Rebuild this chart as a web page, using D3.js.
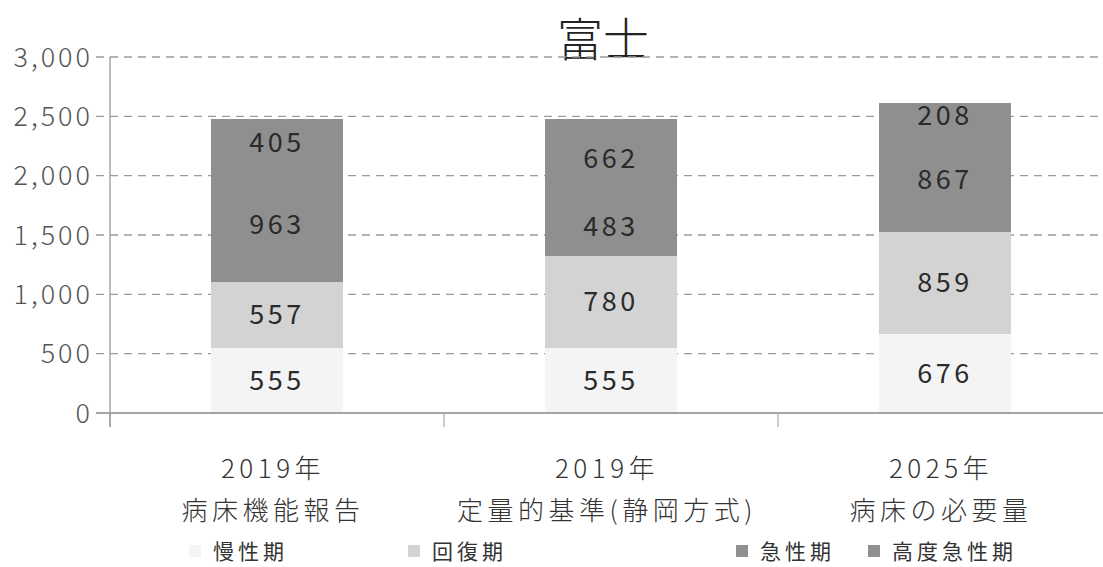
<!DOCTYPE html>
<html>
<head>
<meta charset="utf-8">
<script src="https://cdn.jsdelivr.net/npm/d3@7"></script>
<style>
	body { margin: 0; background: #fff; }
	svg { display: block; }
	text { font-family: "Noto Sans CJK JP", "Noto Sans", sans-serif; }
</style>
</head>
<body>
<div id="chart"></div>
<script>
// categories (two-line labels)
var categories = ['2019年\n病床機能報告', '2019年\n定量的基準(静岡方式)', '2025年\n病床の必要量'];
var seriesNames = ['慢性期', '回復期', '急性期', '高度急性期'];
var chronic = [555, 555, 676];
var recovery = [557, 780, 859];
var acute = [963, 483, 867];
var highAcute = [405, 662, 208];
var yTicks = [0, 500, 1000, 1500, 2000, 2500, 3000];

var colors = ['#f4f4f4', '#d3d3d3', '#8f8f8f', '#8f8f8f'];

var W = 1103, H = 567;
var el = document.getElementById('chart');
var svg = d3.select(el).append('svg').attr('width', W).attr('height', H);

// build rows for the stack
var rows = categories.map(function(c, i) {
	return { cat: c, '慢性期': chronic[i], '回復期': recovery[i], '急性期': acute[i], '高度急性期': highAcute[i] };
});
var stacked = d3.stack().keys(seriesNames)(rows);

var xScale = d3.scaleBand().domain(categories).range([110, 1112]);
var yScale = d3.scaleLinear().domain([0, 3000]).range([413, 57]);

// Title
svg.append('text')
	.attr('x', 603).attr('y', 56)
	.attr('text-anchor', 'middle')
	.attr('font-size', 46)
	.attr('font-weight', 300)
	.attr('fill', '#222')
	.text('富士');

// gridlines
svg.append('g').selectAll('line')
	.data(yTicks.filter(function(d) { return d > 0; }))
	.enter().append('line')
	.attr('x1', 96).attr('x2', W)
	.attr('y1', function(d) { return yScale(d); })
	.attr('y2', function(d) { return yScale(d); })
	.attr('stroke', '#9a9a9a')
	.attr('stroke-width', 1.3)
	.attr('stroke-dasharray', '8,6');

// Y tick labels
svg.append('g').selectAll('text')
	.data(yTicks)
	.enter().append('text')
	.attr('x', 93)
	.attr('y', function(d) { return yScale(d); })
	.attr('dy', '0.36em')
	.attr('text-anchor', 'end')
	.attr('font-size', 27)
	.attr('font-weight', 300)
	.attr('letter-spacing', 3)
	.attr('fill', '#555')
	.text(function(d) { return d3.format(',')(d); });

// bars
var bw = xScale.bandwidth() * 0.395;
var layers = svg.append('g').selectAll('g')
	.data(stacked)
	.enter().append('g')
	.attr('fill', function(d, i) { return colors[i]; });

layers.selectAll('rect')
	.data(function(d) { return d; })
	.enter().append('rect')
	.attr('shape-rendering', 'crispEdges')
	.attr('x', function(d) { return xScale(d.data.cat) + (xScale.bandwidth() - bw) / 2; })
	.attr('width', bw)
	.attr('y', function(d) { return yScale(d[1]); })
	.attr('height', function(d) { return yScale(d[0]) - yScale(d[1]) + 1; });

// value labels
layers.selectAll('text')
	.data(function(d) { return d; })
	.enter().append('text')
	.attr('x', function(d) { return xScale(d.data.cat) + xScale.bandwidth() / 2; })
	.attr('y', function(d) { return (yScale(d[0]) + yScale(d[1])) / 2; })
	.attr('dy', '0.36em')
	.attr('text-anchor', 'middle')
	.attr('font-size', 27)
	.attr('letter-spacing', 3.5)
	.attr('fill', '#2a2a2a')
	.text(function(d) { return d[1] - d[0]; });

// x axis line + y axis line
svg.append('line')
	.attr('x1', 96).attr('x2', W)
	.attr('y1', yScale(0)).attr('y2', yScale(0))
	.attr('stroke', '#888').attr('stroke-width', 1.5);
svg.append('line')
	.attr('x1', 110).attr('x2', 110)
	.attr('y1', yScale(3000)).attr('y2', yScale(0) + 14)
	.attr('stroke', '#999').attr('stroke-width', 1.3);

// category ticks
svg.append('g').selectAll('line')
	.data(categories)
	.enter().append('line')
	.attr('x1', function(d) { return xScale(d); })
	.attr('x2', function(d) { return xScale(d); })
	.attr('y1', yScale(0)).attr('y2', yScale(0) + 14)
	.attr('stroke', '#999');

// category labels
var catLabels = svg.append('g').selectAll('text')
	.data(categories)
	.enter().append('text')
	.attr('text-anchor', 'middle')
	.attr('font-size', 26)
	.attr('font-weight', 300)
	.attr('letter-spacing', 4.5)
	.attr('fill', '#333');
catLabels.selectAll('tspan')
	.data(function(d) { return d.split('\n').map(function(t) { return { t: t, c: d }; }); })
	.enter().append('tspan')
	.attr('x', function(d) { return xScale(d.c) + xScale.bandwidth() / 2 - 4; })
	.attr('y', function(d, i) { return 478 + i * 42; })
	.text(function(d) { return d.t; });

// legend
var legendX = [195, 414, 742, 874];
var legend = svg.append('g').selectAll('g')
	.data(seriesNames)
	.enter().append('g')
	.attr('transform', function(d, i) { return 'translate(' + legendX[i] + ',551)'; });
legend.append('rect')
	.attr('x', -6).attr('y', -6).attr('width', 12).attr('height', 12)
	.attr('fill', function(d, i) { return colors[i]; });
legend.append('text')
	.attr('x', 18)
	.attr('dy', '0.36em')
	.attr('font-size', 21)
	.attr('letter-spacing', 4)
	.attr('fill', '#333')
	.text(function(d) { return d; });
</script>
</body>
</html>
